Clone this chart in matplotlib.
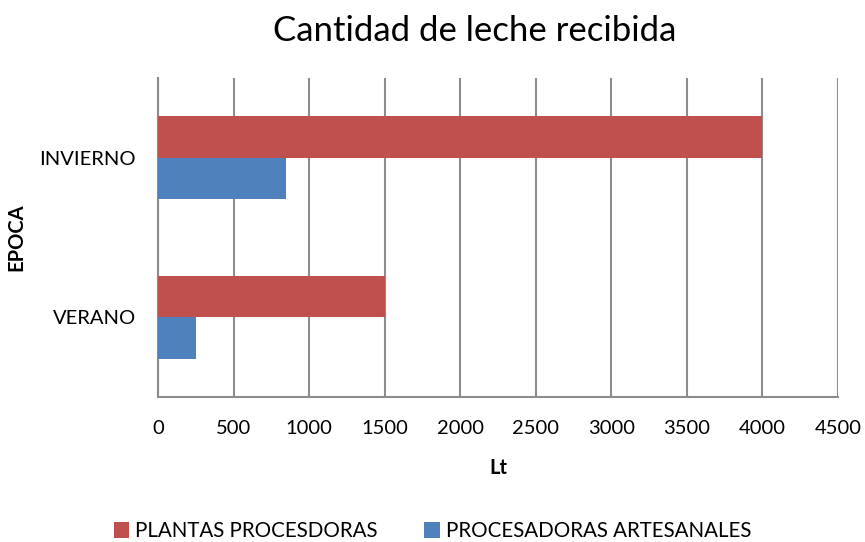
import matplotlib
matplotlib.use("Agg")
import matplotlib.pyplot as plt
import numpy as np

plt.rcParams['font.family'] = ['Lato', 'DejaVu Sans']

categories = ["VERANO", "INVIERNO"]
plantas = [1500, 4000]
artesanales = [250, 850]
series_names = ["PLANTAS PROCESDORAS", "PROCESADORAS ARTESANALES"]
xticks = [0, 500, 1000, 1500, 2000, 2500, 3000, 3500, 4000, 4500]

red = "#C0504D"
blue = "#4F81BD"

fig = plt.figure(figsize=(8.65, 5.42), dpi=100)
ax = fig.add_axes([0.1827, 0.2675, 0.7861, 0.5885])

y = np.arange(len(categories))
h = 0.26
ax.barh(y + h/2, plantas, height=h, color=red, label=series_names[0], zorder=3)
ax.barh(y - h/2, artesanales, height=h, color=blue, label=series_names[1], zorder=3)

ax.set_xlim(0, 4500)
ax.set_ylim(-0.5, 1.5)
ax.set_xticks(xticks)
ax.set_xticklabels([str(v) for v in xticks], fontsize=14.5)
ax.set_yticks(y)
ax.set_yticklabels(categories, fontsize=14.5)
ax.tick_params(axis='both', length=0)
ax.tick_params(axis='x', pad=16.5)
ax.tick_params(axis='y', pad=16)
ax.grid(axis='x', color='#8c8c8c', linewidth=1.5, zorder=0)
for s in ['top', 'right']:
    ax.spines[s].set_visible(False)
for s in ['left', 'bottom']:
    ax.spines[s].set_color('#8c8c8c')
    ax.spines[s].set_linewidth(1.5)

ax.set_xlabel("Lt", fontsize=14.5, fontweight='bold', labelpad=15)
fig.text(0.019, 0.562, "EPOCA", rotation=90, fontsize=14.5, fontweight='bold', va='center', ha='center')
fig.text(0.549, 0.942, "Cantidad de leche recibida", fontsize=25, ha='center', va='center')

handles, labels = ax.get_legend_handles_labels()
fig.legend(handles, labels, loc='center', bbox_to_anchor=(0.5, 0.02), ncol=2, frameon=False,
           fontsize=14.8, handlelength=0.75, handleheight=0.75, handletextpad=0.3, columnspacing=2.25)

fig.savefig("out.png", dpi=100)
